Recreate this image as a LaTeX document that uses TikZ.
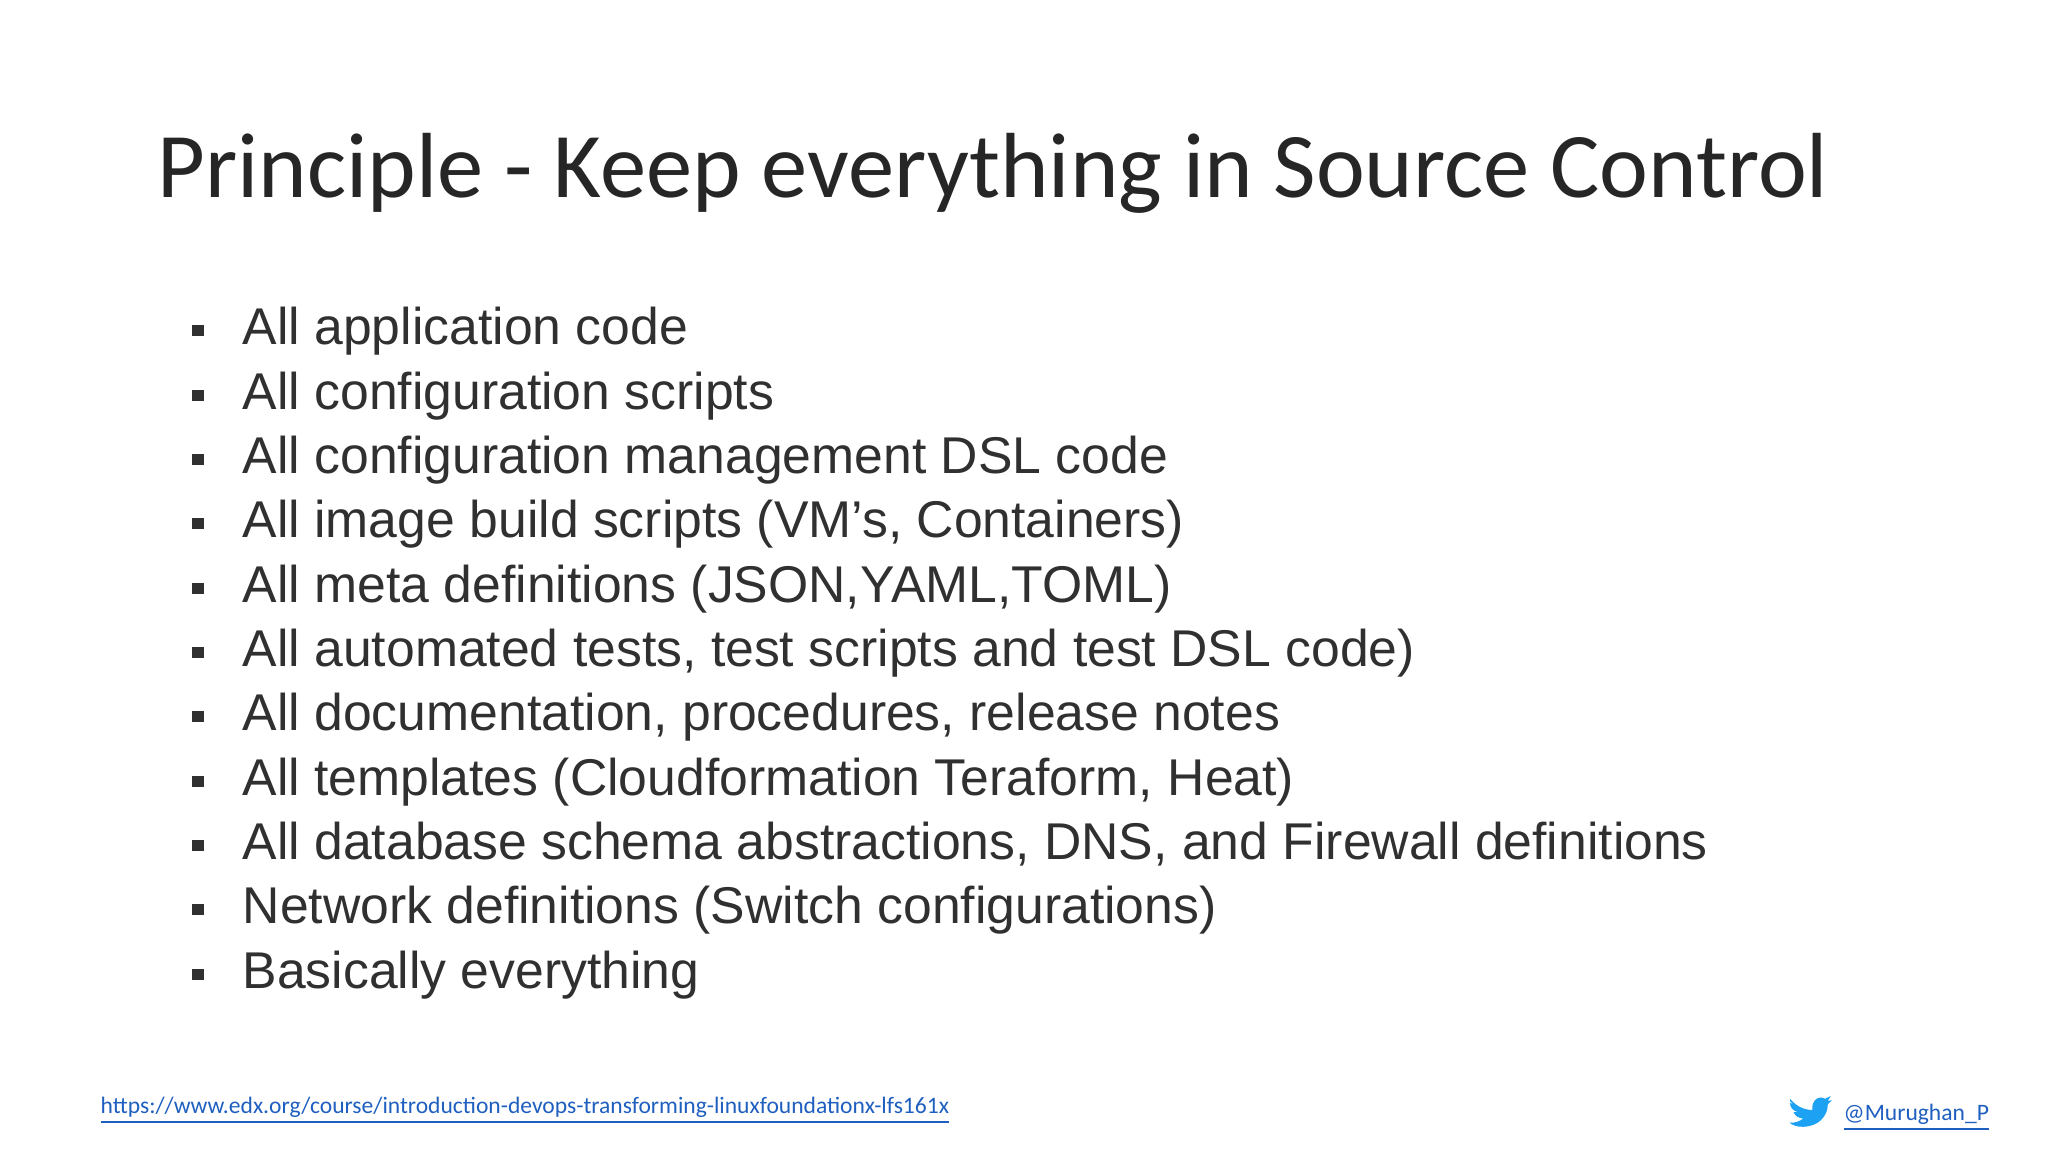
\documentclass[tikz,border=0pt]{standalone}
\usepackage{fontspec}
\setmainfont{Liberation Sans}
\newfontfamily\titlefont{Carlito}
\definecolor{txt}{HTML}{303030}
\definecolor{linkblue}{HTML}{1F5FBF}
\definecolor{tw}{HTML}{1DA1F2}
\begin{document}
\begin{tikzpicture}[x=0.01cm,y=-0.01cm,
  item/.style={anchor=base west,inner sep=0,text=txt,font=\fontsize{14.7}{17}\selectfont},
  bul/.style={fill=txt,minimum size=0.11cm,inner sep=0}]
\useasboundingbox (0,0) rectangle (2048,1152);
\node[anchor=base west,inner sep=0,text=black!85,font=\titlefont\fontsize{26.3}{32}\selectfont] (title) at (157,198) {Principle - Keep everything in Source Control};
\foreach \t [count=\i] in {All application code,All configuration scripts,All configuration management DSL code,{All image build scripts (VM’s, Containers)},{All meta definitions (JSON,YAML,TOML)},{All automated tests, test scripts and test DSL code)},{All documentation, procedures, release notes},{All templates (Cloudformation Teraform, Heat)},{All database schema abstractions, DNS, and Firewall definitions},{Network definitions (Switch configurations)},Basically everything}{
  \pgfmathsetmacro\yy{345+(\i-1)*64.3}
  \node[item] (i\i) at (242,\yy) {\t};
  \node[bul] (b\i) at (198,\yy-14) {};
}
\node[anchor=base west,inner sep=0,text=linkblue,font=\titlefont\fontsize{6.7}{8}\selectfont] (link) at (100,1113) {\underline{https://www.edx.org/course/introduction-devops-transforming-linuxfoundationx-lfs161x}};
\node[anchor=base west,inner sep=0,text=linkblue,font=\titlefont\fontsize{6.7}{8}\selectfont] (handle) at (1843,1120) {\underline{@Murughan\_P}};
\begin{scope}[shift={(1790,1096)},scale=0.7,shift={(-1790,-1096)}]
\fill[tw] (1790,1100) .. controls (1800,1112) and (1812,1116) .. (1822,1116)
  .. controls (1820,1104) and (1830,1094) .. (1840,1100)
  -- (1848,1096) -- (1844,1103) -- (1850,1102) -- (1844,1108)
  .. controls (1844,1125) and (1830,1140) .. (1808,1140)
  .. controls (1800,1140) and (1794,1138) .. (1789,1134)
  .. controls (1797,1135) and (1804,1132) .. (1809,1128)
  .. controls (1802,1128) and (1797,1124) .. (1795,1119)
  -- (1801,1119) .. controls (1794,1117) and (1790,1112) .. (1790,1106)
  -- (1796,1108) .. controls (1790,1104) and (1789,1104) .. (1790,1100) -- cycle;
\end{scope}
\end{tikzpicture}
\end{document}
